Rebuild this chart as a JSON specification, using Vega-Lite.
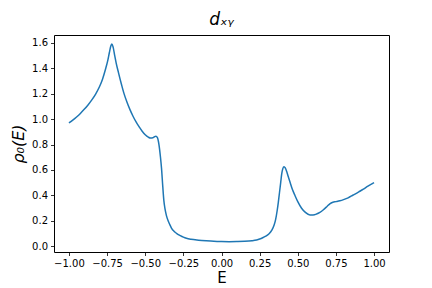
{
  "$schema": "https://vega.github.io/schema/vega-lite/v6.json",
  "width": 335,
  "height": 217,
  "autosize": {"type": "none"},
  "padding": {"left": 54, "top": 35, "right": 43, "bottom": 36},
  "background": "white",
  "config": {
    "view": {"stroke": "#000", "strokeWidth": 1},
    "axis": {
      "grid": false,
      "domain": false,
      "tickColor": "#000",
      "tickSize": 3.5,
      "tickWidth": 0.8,
      "labelFont": "DejaVu Sans",
      "labelFontSize": 10,
      "labelColor": "#000",
      "labelPadding": 3,
      "titleFont": "DejaVu Sans",
      "titleFontWeight": "normal",
      "titleColor": "#000"
    }
  },
  "title": {
    "text": "dₓᵧ",
    "font": "DejaVu Sans",
    "fontStyle": "italic",
    "fontWeight": "normal",
    "fontSize": 17,
    "color": "#000",
    "offset": 6
  },
  "data": {
    "values": [
      {"E": -1.0, "rho": 0.97},
      {"E": -0.975, "rho": 0.992},
      {"E": -0.95, "rho": 1.017},
      {"E": -0.925, "rho": 1.045},
      {"E": -0.9, "rho": 1.077},
      {"E": -0.875, "rho": 1.112},
      {"E": -0.85, "rho": 1.152},
      {"E": -0.825, "rho": 1.198},
      {"E": -0.8, "rho": 1.255},
      {"E": -0.78, "rho": 1.315},
      {"E": -0.76, "rho": 1.395},
      {"E": -0.745, "rho": 1.465},
      {"E": -0.735, "rho": 1.525},
      {"E": -0.725, "rho": 1.578},
      {"E": -0.718, "rho": 1.592},
      {"E": -0.71, "rho": 1.565},
      {"E": -0.7, "rho": 1.5},
      {"E": -0.69, "rho": 1.44},
      {"E": -0.675, "rho": 1.365},
      {"E": -0.656, "rho": 1.275},
      {"E": -0.64, "rho": 1.205},
      {"E": -0.62, "rho": 1.135},
      {"E": -0.6, "rho": 1.075},
      {"E": -0.58, "rho": 1.023},
      {"E": -0.56, "rho": 0.978},
      {"E": -0.54, "rho": 0.94},
      {"E": -0.52, "rho": 0.905},
      {"E": -0.5, "rho": 0.877},
      {"E": -0.48, "rho": 0.858},
      {"E": -0.465, "rho": 0.851},
      {"E": -0.45, "rho": 0.853},
      {"E": -0.44, "rho": 0.861},
      {"E": -0.43, "rho": 0.866},
      {"E": -0.42, "rho": 0.855},
      {"E": -0.41, "rho": 0.8},
      {"E": -0.4, "rho": 0.7},
      {"E": -0.393, "rho": 0.61},
      {"E": -0.385, "rho": 0.47},
      {"E": -0.378, "rho": 0.36},
      {"E": -0.37, "rho": 0.29},
      {"E": -0.361, "rho": 0.24},
      {"E": -0.35, "rho": 0.2},
      {"E": -0.34, "rho": 0.172},
      {"E": -0.328, "rho": 0.142},
      {"E": -0.31, "rho": 0.115},
      {"E": -0.295, "rho": 0.1},
      {"E": -0.27, "rho": 0.082},
      {"E": -0.25, "rho": 0.07},
      {"E": -0.23, "rho": 0.061},
      {"E": -0.2, "rho": 0.053},
      {"E": -0.15, "rho": 0.046},
      {"E": -0.1, "rho": 0.041},
      {"E": -0.05, "rho": 0.037},
      {"E": 0.0, "rho": 0.035},
      {"E": 0.05, "rho": 0.034},
      {"E": 0.1, "rho": 0.035},
      {"E": 0.15, "rho": 0.037},
      {"E": 0.2, "rho": 0.042},
      {"E": 0.23, "rho": 0.048},
      {"E": 0.25, "rho": 0.055},
      {"E": 0.27, "rho": 0.065},
      {"E": 0.29, "rho": 0.078},
      {"E": 0.31, "rho": 0.095},
      {"E": 0.33, "rho": 0.125},
      {"E": 0.345, "rho": 0.165},
      {"E": 0.355, "rho": 0.21},
      {"E": 0.365, "rho": 0.28},
      {"E": 0.372, "rho": 0.34},
      {"E": 0.38, "rho": 0.42},
      {"E": 0.388, "rho": 0.5},
      {"E": 0.395, "rho": 0.57},
      {"E": 0.402, "rho": 0.61},
      {"E": 0.41, "rho": 0.625},
      {"E": 0.418, "rho": 0.615},
      {"E": 0.428, "rho": 0.585},
      {"E": 0.437, "rho": 0.55},
      {"E": 0.45, "rho": 0.5},
      {"E": 0.465, "rho": 0.445},
      {"E": 0.481, "rho": 0.4},
      {"E": 0.5, "rho": 0.35},
      {"E": 0.525, "rho": 0.298},
      {"E": 0.55, "rho": 0.265},
      {"E": 0.58, "rho": 0.245},
      {"E": 0.6, "rho": 0.245},
      {"E": 0.623, "rho": 0.252},
      {"E": 0.645, "rho": 0.265},
      {"E": 0.666, "rho": 0.284},
      {"E": 0.69, "rho": 0.31},
      {"E": 0.71, "rho": 0.333},
      {"E": 0.73, "rho": 0.345},
      {"E": 0.75, "rho": 0.35},
      {"E": 0.776, "rho": 0.357},
      {"E": 0.8, "rho": 0.366},
      {"E": 0.83, "rho": 0.38},
      {"E": 0.863, "rho": 0.402},
      {"E": 0.9, "rho": 0.427},
      {"E": 0.93, "rho": 0.448},
      {"E": 0.96, "rho": 0.472},
      {"E": 1.0, "rho": 0.5}
    ]
  },
  "mark": {"type": "line", "color": "#1f77b4", "strokeWidth": 1.5, "interpolate": "monotone"},
  "encoding": {
    "x": {
      "field": "E",
      "type": "quantitative",
      "scale": {"domain": [-1.098, 1.098], "nice": false, "zero": false},
      "axis": {
        "title": "E",
        "titleFontSize": 15,
        "titlePadding": 2,
        "values": [-1, -0.75, -0.5, -0.25, 0, 0.25, 0.5, 0.75, 1],
        "format": ".2f"
      }
    },
    "y": {
      "field": "rho",
      "type": "quantitative",
      "scale": {"domain": [-0.047, 1.663], "nice": false, "zero": false},
      "axis": {
        "title": "ρ₀(E)",
        "titleFontSize": 16,
        "titleFontStyle": "italic",
        "titlePadding": 5,
        "values": [0, 0.2, 0.4, 0.6, 0.8, 1.0, 1.2, 1.4, 1.6],
        "format": ".1f"
      }
    }
  }
}
